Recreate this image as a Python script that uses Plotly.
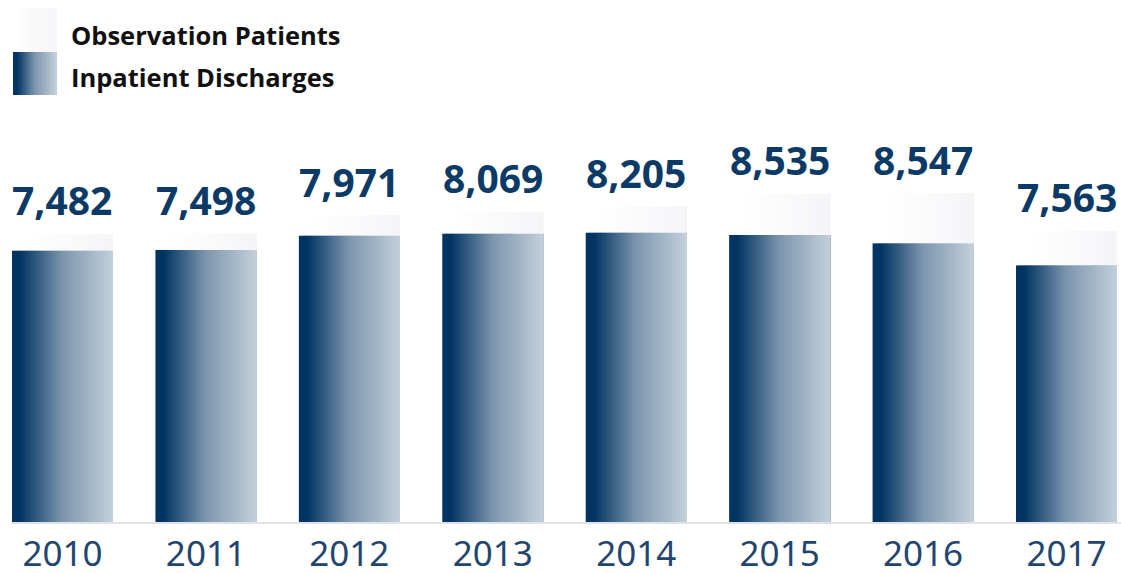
import plotly.graph_objects as go

# Yearly volumes
years = ["2010", "2011", "2012", "2013", "2014", "2015", "2016", "2017"]
inpatient_discharges = [7066, 7081, 7452, 7504, 7530, 7468, 7252, 6684]
observation_patients = [416, 417, 519, 565, 675, 1067, 1295, 879]
totals = [7482, 7498, 7971, 8069, 8205, 8535, 8547, 7563]

W, H = 1121, 573
M_L, M_R, M_T, M_B = 12, 0, 0, 51
PLOT_W = W - M_L - M_R
PLOT_H = H - M_T - M_B

BAR_W = 0.704
N_STRIPS = 48


def hex_to_rgb(h):
    h = h.lstrip("#")
    return tuple(int(h[i:i + 2], 16) for i in (0, 2, 4))


def blend(c0, c1, t):
    a, b = hex_to_rgb(c0), hex_to_rgb(c1)
    return "rgb({},{},{})".format(*[round(a[k] + (b[k] - a[k]) * t) for k in range(3)])


def ramp(stops, t):
    # piecewise-linear colour ramp over (position, colour) stops
    for (p0, c0), (p1, c1) in zip(stops, stops[1:]):
        if t <= p1:
            return blend(c0, c1, 0 if p1 == p0 else (t - p0) / (p1 - p0))
    return blend(stops[-1][1], stops[-1][1], 0)


INPATIENT_STOPS = [(0.0, "#003462"), (0.07, "#003462"), (0.5, "#7d96ae"), (1.0, "#c1cfda")]
OBSERVATION_STOPS = [(0.0, "#ffffff"), (0.12, "#ffffff"), (1.0, "#f5f5f8")]

fig = go.Figure()

# Each bar is painted as overlapping vertical strips, lighter towards the right,
# to give a horizontal gradient fill.
for i in range(N_STRIPS):
    t = i / (N_STRIPS - 1)
    off = -BAR_W / 2 + i * BAR_W / N_STRIPS
    wid = BAR_W - i * BAR_W / N_STRIPS
    fig.add_trace(go.Bar(
        x=years, y=inpatient_discharges, base=0,
        offset=off, width=wid,
        marker=dict(color=ramp(INPATIENT_STOPS, t), line=dict(width=0)),
        showlegend=False, hoverinfo="skip",
    ))
    fig.add_trace(go.Bar(
        x=years, y=observation_patients, base=inpatient_discharges,
        offset=off, width=wid,
        marker=dict(color=ramp(OBSERVATION_STOPS, t), line=dict(width=0)),
        showlegend=False, hoverinfo="skip",
    ))

# Total labels above each stack (category index used as x position)
for idx, tot in enumerate(totals):
    fig.add_annotation(
        x=idx, y=tot, text=f"{tot:,}", showarrow=False,
        yanchor="bottom", yshift=6,
        font=dict(family="Noto Sans", size=39, color="#0c3a67", weight="bold"),
    )


# Legend drawn by hand (gradient swatches + bold labels)
def px_x(p):
    return (p - M_L) / PLOT_W


def px_y(p):
    return 1 - (p - M_T) / PLOT_H


def swatch(x0, x1, y0, y1, stops, n=22):
    for i in range(n):
        t = i / (n - 1)
        xs = x0 + (x1 - x0) * i / n
        fig.add_shape(type="rect", xref="paper", yref="paper",
                      x0=px_x(xs), x1=px_x(x1), y0=px_y(y1), y1=px_y(y0),
                      fillcolor=ramp(stops, t), line=dict(width=0), layer="above")


swatch(13, 57, 8, 52, [(0.0, "#ffffff"), (0.3, "#fbfbfc"), (1.0, "#f6f6f8")])
swatch(13, 57, 52, 95, INPATIENT_STOPS)

for label, yc in [("Observation Patients", 35), ("Inpatient Discharges", 77)]:
    fig.add_annotation(
        x=px_x(69), y=px_y(yc), xref="paper", yref="paper",
        xanchor="left", yanchor="middle", text=label, showarrow=False,
        font=dict(family="Open Sans", size=25.5, color="#111111", weight="bold"),
    )

y_max = PLOT_H / 0.03843

fig.update_layout(
    width=W, height=H,
    margin=dict(l=M_L, r=M_R, t=M_T, b=M_B, autoexpand=False),
    barmode="overlay",
    plot_bgcolor="white", paper_bgcolor="white",
    xaxis=dict(
        type="category", range=[-0.352, -0.352 + PLOT_W / 143.43],
        showgrid=False, zeroline=False,
        showline=True, linecolor="#e1e1e8", linewidth=2,
        ticks="",
        tickfont=dict(family="Noto Sans", size=35, color="#1f4670"),
    ),
    yaxis=dict(range=[0, y_max], visible=False, showgrid=False, zeroline=False),
)

fig.write_html("out.html")
